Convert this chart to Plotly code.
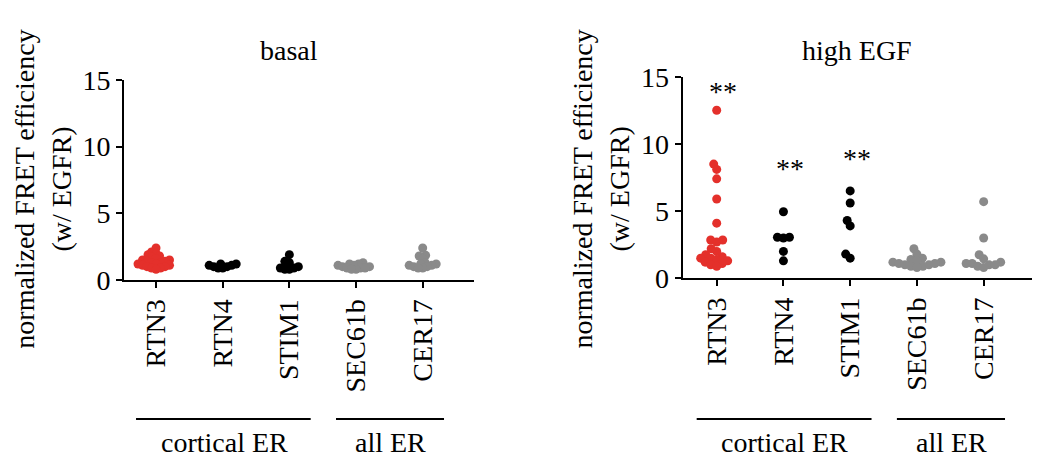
import plotly.graph_objects as go

# Categories and groupings
categories = ["RTN3", "RTN4", "STIM1", "SEC61b", "CER17"]
colors = ["#e4302b", "#000000", "#000000", "#8a8a8a", "#8a8a8a"]
groups = [("cortical ER", 0, 2), ("all ER", 3, 4)]

# Normalized FRET efficiency (w/ EGFR), basal condition
basal = {
    "RTN3": [2.4, 2.1, 2.0, 1.9, 1.8, 1.7, 1.6, 1.5, 1.5, 1.4, 1.4, 1.3, 1.3,
             1.2, 1.2, 1.1, 1.1, 1.0, 1.0, 0.9, 0.9, 0.8],
    "RTN4": [1.2, 1.2, 1.1, 1.1, 1.0, 1.0, 0.9, 0.9],
    "STIM1": [1.9, 1.4, 1.3, 1.0, 0.9, 0.8, 0.8, 0.9],
    "SEC61b": [1.3, 1.2, 1.2, 1.1, 1.1, 1.0, 1.0, 0.9, 0.9, 0.9, 0.8, 0.8],
    "CER17": [2.4, 1.85, 1.8, 1.6, 1.3, 1.2, 1.2, 1.1, 1.1, 1.0, 1.0, 0.9, 0.9],
}

# Normalized FRET efficiency (w/ EGFR), high EGF condition
high_egf = {
    "RTN3": [12.5, 8.5, 8.1, 7.4, 5.9, 4.1, 2.85, 2.7, 2.85, 2.2, 2.0, 1.75,
             1.6, 1.5, 1.5, 1.4, 1.3, 1.2, 1.1, 1.0, 0.9],
    "RTN4": [4.95, 3.05, 3.0, 3.05, 2.0, 1.3],
    "STIM1": [6.5, 5.6, 4.3, 3.9, 1.8, 1.5],
    "SEC61b": [2.2, 1.8, 1.5, 1.4, 1.3, 1.2, 1.2, 1.1, 1.1, 1.0, 1.0, 0.9,
               0.9, 0.8],
    "CER17": [5.7, 3.0, 1.75, 1.45, 1.2, 1.1, 1.1, 1.0, 1.0, 0.9, 0.8],
}

# Significance marks for high EGF: (category, y position)
sig_marks = [("RTN3", 13.9), ("RTN4", 8.2), ("STIM1", 8.95)]

FONT = "'Times New Roman', 'Liberation Serif', 'DejaVu Serif', serif"
FS = 28
PX_PER_CAT = 66.7   # horizontal pixels per category step
PX_PER_UNIT = 13.4  # vertical pixels per y unit
DOT = 9


def swarm_offsets(vals, dist):
    """Beeswarm layout: horizontal offsets (category units) avoiding overlap."""
    idx = sorted(range(len(vals)), key=lambda i: vals[i])
    placed = []
    out = [0.0] * len(vals)
    for i in idx:
        y = vals[i] * PX_PER_UNIT
        best = None
        step = 0.5
        k = 0
        while best is None:
            for sgn in ((1,) if k == 0 else (-1, 1)):
                x = sgn * k * step
                if all((x - px) ** 2 + (y - py) ** 2 >= dist ** 2 for px, py in placed):
                    best = x
                    break
            k += 1
        placed.append((best, y))
        out[i] = best / PX_PER_CAT
    return out


fig = go.Figure()

panels = [
    (basal, "x", "y", 4.3),
    (high_egf, "x2", "y2", 6.0),
]

for data, xa, ya, dist in panels:
    for ci, cat in enumerate(categories):
        vals = data[cat]
        offs = swarm_offsets(vals, dist)
        fig.add_trace(go.Scatter(
            x=[ci + o for o in offs], y=vals, mode="markers",
            marker=dict(size=DOT, color=colors[ci], line=dict(width=0)),
            xaxis=xa, yaxis=ya, showlegend=False, hoverinfo="y",
        ))

axis_common = dict(
    showline=True, linewidth=2, linecolor="black", ticks="outside",
    tickwidth=2, tickcolor="black", ticklen=6, showgrid=False, zeroline=False,
    automargin=False,
    tickfont=dict(family=FONT, size=FS, color="black"),
)

fig.update_layout(
    width=1037, height=459,
    margin=dict(l=0, r=0, t=0, b=0, pad=0),
    paper_bgcolor="white", plot_bgcolor="white",
    font=dict(family=FONT, size=FS, color="black"),
    xaxis=dict(domain=[0.1196, 0.4571], range=[-0.48, 4.77],
               tickvals=list(range(5)), ticktext=categories, tickangle=-90,
               anchor="y", **axis_common),
    yaxis=dict(domain=[0.390, 0.8257], range=[0, 15], tickvals=[0, 5, 10, 15],
               anchor="x", **axis_common),
    xaxis2=dict(domain=[0.6583, 0.9949], range=[-0.51, 4.72],
                tickvals=list(range(5)), ticktext=categories, tickangle=-90,
                anchor="y2", **axis_common),
    yaxis2=dict(domain=[0.3937, 0.8329], range=[0, 15], tickvals=[0, 5, 10, 15],
                anchor="x2", **axis_common),
)

ann = []
shapes = []
tfont = dict(family=FONT, size=FS, color="black")
# Panel titles
ann.append(dict(text="basal", x=2.0, xref="x", y=0.89, yref="paper",
                showarrow=False, yanchor="middle", font=tfont))
ann.append(dict(text="high EGF", x=2.1, xref="x2", y=0.89, yref="paper",
                showarrow=False, yanchor="middle", font=tfont))

# Y-axis titles
for xp in (0.041, 0.579):
    ann.append(dict(text="normalized FRET efficiency<br>(w/ EGFR)",
                    x=xp, xref="paper", y=0.588, yref="paper", textangle=-90,
                    showarrow=False, xanchor="center", yanchor="middle",
                    font=tfont))

# Group brackets under the category labels
for xa in ("x", "x2"):
    for name, i0, i1 in groups:
        shapes.append(dict(type="line", xref=xa, yref="paper",
                           x0=i0 - 0.3, x1=i1 + 0.32, y0=0.087, y1=0.087,
                           line=dict(color="black", width=2)))
        ann.append(dict(text=name, x=(i0 + i1) / 2 + 0.02, xref=xa,
                        y=0.037, yref="paper", showarrow=False,
                        yanchor="middle", font=tfont))

# Significance asterisks
for cat, yv in sig_marks:
    ann.append(dict(text="**", x=categories.index(cat) + 0.1, xref="x2",
                    y=yv, yref="y2", showarrow=False, yanchor="middle",
                    font=tfont))

fig.update_layout(annotations=ann, shapes=shapes)
fig.write_html("out.html")
